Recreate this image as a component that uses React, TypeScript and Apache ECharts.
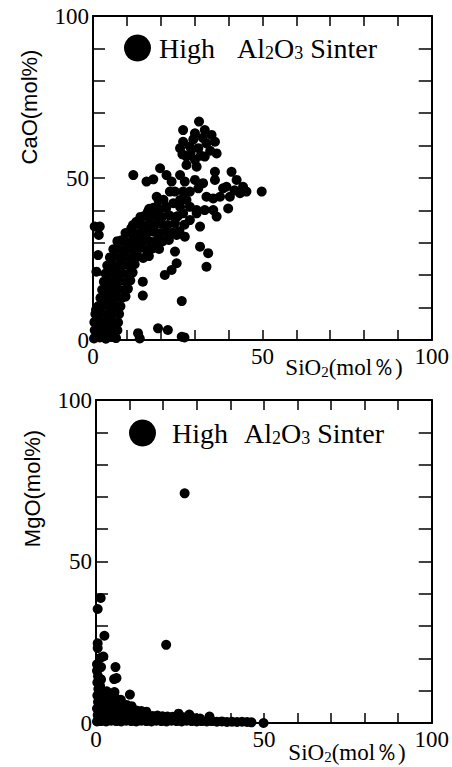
import React, { useEffect, useRef } from "react";
import * as echarts from "echarts";

// Labelled tick values on both axes
const labelledTicks = [0, 50, 100];

// CaO vs SiO2 (mol%) – High Al2O3 sinter
const caoPoints: number[][] = [
  // top cluster
  [31.3, 67.4], [26.6, 64.8], [30.1, 63.8], [33.0, 64.8], [35.0, 63.3], [36.0, 61.2],
  [25.7, 59.2], [28.6, 59.7], [31.1, 59.2], [33.5, 60.7], [27.6, 56.6], [30.1, 55.6],
  [33.0, 56.6], [36.5, 57.6], [27.6, 54.0], [30.6, 53.5], [26.6, 61.2], [29.6, 61.9],
  [32.4, 62.4], [34.6, 58.4], [28.8, 57.6], [31.8, 56.9], [26.4, 57.3],
  // upper right arm
  [36.0, 51.9], [40.9, 51.9], [42.4, 49.4], [44.3, 47.3], [45.3, 45.8], [43.4, 45.3],
  [39.4, 47.3], [37.5, 44.2], [49.8, 45.8], [39.9, 40.6], [36.0, 49.4], [35.5, 43.7],
  [36.5, 38.1], [35.5, 40.1], [33.0, 40.1], [30.6, 39.1], [28.6, 37.0], [33.5, 44.2],
  [31.1, 46.8], [28.6, 45.8], [26.6, 45.8], [22.7, 45.8], [25.7, 43.2], [27.6, 43.2],
  [25.7, 41.1], [23.7, 42.2], [30.1, 49.4], [32.5, 48.4], [25.7, 50.9], [21.7, 50.9],
  [19.8, 53.0], [11.9, 50.9], [15.8, 48.9], [17.8, 49.6], [18.8, 44.2], [24.2, 45.8],
  [27.1, 48.9], [23.2, 48.9], [26.6, 39.1], [24.7, 38.1], [28.6, 41.1], [30.6, 40.1],
  [31.6, 35.0], [24.7, 32.4], [27.1, 31.9], [31.6, 28.8], [34.0, 26.8], [33.5, 22.6],
  [24.2, 27.3], [24.7, 23.7], [23.2, 21.6], [21.2, 20.1], [26.2, 12.0], [14.7, 18.0],
  [14.7, 13.7], [21.6, 41.1], [18.7, 40.1], [16.2, 39.6], [12.8, 36.5], [11.3, 34.5],
  [40.4, 44.2], [38.4, 46.8], [41.8, 46.2],
  // low points near the axis
  [13.3, 2.1], [13.8, 0.5], [19.2, 3.6], [22.1, 3.1], [26.2, 1.0], [27.0, 0.8],
  // left column
  [0.5, 35.0], [2.0, 35.0], [1.7, 32.4], [1.5, 26.2], [1.0, 21.1], [0.9, 9.3],
  // dense band
  [0.3, 0.5], [2.0, 0.8], [3.8, 0.4], [5.5, 0.9], [6.8, 0.6],
  [0.5, 3.0], [2.3, 3.3], [4.0, 2.8], [5.8, 3.2], [7.2, 3.0],
  [0.4, 5.5], [2.1, 5.8], [3.9, 5.3], [5.6, 5.7], [7.4, 5.4],
  [0.7, 8.0], [2.4, 8.3], [4.2, 7.8], [6.0, 8.2], [7.7, 8.0],
  [1.6, 10.5], [3.0, 10.8], [4.6, 10.3], [6.4, 10.7], [8.1, 10.4],
  [2.2, 13.0], [3.6, 13.3], [5.1, 12.8], [6.9, 13.2], [8.5, 13.0], [9.6, 13.4],
  [2.7, 15.5], [4.0, 15.8], [5.6, 15.3], [7.4, 15.7], [9.2, 15.4], [10.3, 15.8],
  [3.2, 18.0], [4.5, 18.3], [6.1, 17.8], [7.9, 18.2], [9.7, 18.0], [11.0, 18.4],
  [3.7, 20.5], [5.0, 20.8], [6.6, 20.3], [8.4, 20.7], [10.2, 20.4], [11.7, 20.8],
  [4.2, 23.0], [5.5, 23.3], [7.1, 22.8], [8.9, 23.2], [10.7, 23.0], [12.3, 23.4],
  [5.0, 25.5], [6.2, 25.8], [7.7, 25.3], [9.5, 25.7], [11.3, 25.4], [13.1, 25.8], [14.8, 25.3], [16.5, 25.9],
  [6.0, 28.0], [7.2, 28.3], [8.6, 27.8], [10.4, 28.2], [12.2, 28.0], [14.0, 28.4], [15.8, 27.9], [17.6, 28.3], [19.5, 28.1],
  [7.2, 30.5], [8.4, 30.8], [9.8, 30.3], [11.6, 30.7], [13.4, 30.4], [15.2, 30.8], [17.0, 30.3], [18.8, 30.7], [20.6, 30.5], [22.4, 30.9],
  [9.6, 33.0], [10.8, 33.3], [12.4, 32.8], [14.2, 33.2], [16.0, 33.0], [17.8, 33.4], [19.6, 32.9], [21.4, 33.3], [23.6, 33.1], [25.5, 33.6],
  [11.8, 35.5], [13.0, 35.8], [14.6, 35.3], [16.4, 35.7], [18.2, 35.4], [20.0, 35.8], [22.0, 35.5], [24.2, 36.0], [27.0, 35.6],
  [14.0, 38.0], [15.2, 38.3], [16.8, 37.8], [18.6, 38.2], [20.4, 38.0], [22.6, 38.4], [25.0, 38.2],
  [16.6, 40.5], [17.8, 40.8], [19.4, 40.3], [21.6, 40.7],
  [19.4, 43.0], [20.8, 43.3],
];

// MgO vs SiO2 (mol%) – High Al2O3 sinter
const mgoPoints: number[][] = [
  // outliers
  [26.4, 71.1], [20.9, 24.2], [1.4, 38.7], [0.5, 35.3], [2.5, 27.0], [0.5, 24.7],
  [0.5, 23.2], [2.2, 20.6], [1.2, 20.1], [0.3, 18.2], [1.5, 17.3], [5.8, 17.3],
  [5.4, 13.6], [6.1, 13.9], [5.5, 9.6], [10.1, 8.8],
  // column on the axis
  [0.3, 0.5], [0.5, 2.5], [0.3, 4.5], [0.6, 6.5], [0.4, 8.5], [0.7, 10.5],
  [0.4, 12.5], [0.6, 14.5], [0.3, 16.2], [1.2, 11.5], [1.5, 13.5],
  // base band
  [1.5, 0.6], [3.0, 0.5], [4.5, 0.7], [6.0, 0.6], [7.5, 0.5], [9.0, 0.7], [10.5, 0.6],
  [12.0, 0.5], [13.5, 0.7], [15.0, 0.6], [16.5, 0.5], [18.0, 0.7], [19.5, 0.6], [21.0, 0.5],
  [22.5, 0.7], [24.0, 0.6], [25.5, 0.5], [27.0, 0.7], [28.5, 0.6], [30.0, 0.5], [31.5, 0.6],
  [33.0, 0.5], [34.5, 0.6], [36.0, 0.4], [37.5, 0.5], [39.0, 0.3], [40.5, 0.4], [42.0, 0.3],
  [43.5, 0.4], [45.0, 0.3], [46.3, 0.2], [49.9, 0.0],
  [1.8, 2.4], [3.3, 2.5], [4.8, 2.3], [6.3, 2.4], [7.8, 2.5], [9.3, 2.3], [10.8, 2.4],
  [12.3, 2.5], [13.8, 2.3], [15.3, 2.4], [16.8, 2.2], [18.3, 2.3], [19.8, 2.1], [21.3, 2.0],
  [22.8, 1.9], [24.6, 2.9], [26.0, 1.8], [27.8, 2.6], [29.5, 1.5], [31.0, 1.4], [33.8, 2.0],
  [1.5, 4.3], [3.0, 4.4], [4.5, 4.3], [6.0, 4.2], [7.5, 4.4], [9.0, 4.1], [10.5, 4.0],
  [12.0, 3.9], [13.5, 3.7], [15.0, 3.5],
  [1.6, 6.2], [3.1, 6.3], [4.6, 6.1], [6.1, 6.2], [7.6, 6.0], [9.1, 5.6], [10.6, 5.2],
  [1.4, 8.1], [2.9, 8.2], [4.4, 7.9], [5.9, 7.6], [7.4, 7.2],
  [1.8, 10.0], [3.2, 9.8],
];

const SERIF = "'Liberation Serif', 'Times New Roman', Times, serif";
const SANS = "'Liberation Sans', Arial, Helvetica, sans-serif";
const BLACK = "#000";

const frameLine = { show: true, onZero: false, lineStyle: { color: BLACK, width: 2 } };

function makeAxes(gridIndex: number, yName: string, namePadTop: number, nameGap: number, yPad: number) {
  const xAxes = [
    {
      type: "value",
      gridIndex,
      min: 0,
      max: 100,
      interval: 10,
      position: "bottom",
      axisLine: frameLine,
      axisTick: { inside: true, length: 10, lineStyle: { color: BLACK, width: 1.5 } },
      splitLine: { show: false },
      axisLabel: {
        color: BLACK,
        fontFamily: SERIF,
        fontSize: 23,
        margin: 5,
        formatter: (v: number) => (labelledTicks.includes(v) ? String(v) : ""),
      },
      name: "{a|SiO}{b|2}{a|(mol\uFF05)}",
      nameLocation: "end",
      nameGap,
      nameTextStyle: {
        align: "right",
        verticalAlign: "top",
        padding: [namePadTop, 0, 0, 0],
        rich: {
          a: { fontFamily: SERIF, fontSize: 23, color: BLACK },
          b: { fontFamily: SERIF, fontSize: 15, color: BLACK, verticalAlign: "bottom" },
        },
      },
    },
    {
      type: "value",
      gridIndex,
      min: 0,
      max: 100,
      interval: 10,
      position: "top",
      axisLine: frameLine,
      axisTick: { inside: true, length: 10, lineStyle: { color: BLACK, width: 1.5 } },
      splitLine: { show: false },
      axisLabel: { show: false },
    },
  ];
  const yAxes = [
    {
      type: "value",
      gridIndex,
      min: 0,
      max: 100,
      interval: 10,
      position: "left",
      axisLine: frameLine,
      axisTick: { inside: true, length: 12, lineStyle: { color: BLACK, width: 1.5 } },
      splitLine: { show: false },
      axisLabel: {
        color: BLACK,
        fontFamily: SERIF,
        fontSize: 23,
        margin: 4,
        formatter: (v: number) => (labelledTicks.includes(v) ? String(v) : ""),
      },
      name: yName,
      nameLocation: "middle",
      nameGap: 53,
      nameTextStyle: {
        fontFamily: SANS,
        fontSize: 22,
        color: BLACK,
        padding: [0, 0, 0, yPad],
      },
    },
    {
      type: "value",
      gridIndex,
      min: 0,
      max: 100,
      interval: 10,
      position: "right",
      axisLine: frameLine,
      axisTick: { inside: true, length: 13, lineStyle: { color: BLACK, width: 1.5 } },
      splitLine: { show: false },
      axisLabel: { show: false },
    },
  ];
  return { xAxes, yAxes };
}

const legendRich = (gap: number) => ({
  h: { fontFamily: SERIF, fontSize: 28, color: BLACK, padding: [0, gap, 0, 0] },
  a: { fontFamily: SERIF, fontSize: 28, color: BLACK },
  b: { fontFamily: SERIF, fontSize: 18, color: BLACK, verticalAlign: "bottom" },
});
const legendText = "{h|High}{a|Al}{b|2}{a|O}{b|3}{a| Sinter}";

export default function App() {
  const ref = useRef<HTMLDivElement>(null);
  useEffect(() => {
    document.body.style.margin = "0";
    if (!ref.current) return;
    const chart = echarts.init(ref.current, undefined, { renderer: "svg" });
    const top = makeAxes(0, "CaO(mol%)", 16, -29, 142);
    const bottom = makeAxes(1, "MgO(mol%)", 18, -26, 146);
    chart.setOption({
      animation: false,
      backgroundColor: "#fff",
      grid: [
        { left: 93, top: 16, width: 339, height: 324 },
        { left: 96, top: 400, width: 337, height: 323 },
      ],
      xAxis: [...top.xAxes, ...bottom.xAxes],
      yAxis: [...top.yAxes, ...bottom.yAxes],
      legend: [
        {
          data: ["High Al2O3 Sinter (CaO)"],
          left: 119,
          top: 29,
          icon: "circle",
          itemWidth: 27,
          itemHeight: 27,
          selectedMode: false,
          formatter: () => legendText,
          textStyle: { padding: [0, 0, 0, 3], rich: legendRich(22) },
        },
        {
          data: ["High Al2O3 Sinter (MgO)"],
          left: 124,
          top: 414,
          icon: "circle",
          itemWidth: 27,
          itemHeight: 27,
          selectedMode: false,
          formatter: () => legendText,
          textStyle: { padding: [0, 0, 0, 11], rich: legendRich(16) },
        },
      ],
      series: [
        {
          name: "High Al2O3 Sinter (CaO)",
          type: "scatter",
          xAxisIndex: 0,
          yAxisIndex: 0,
          symbol: "circle",
          symbolSize: 10,
          itemStyle: { color: BLACK, opacity: 1 },
          data: caoPoints,
        },
        {
          name: "High Al2O3 Sinter (MgO)",
          type: "scatter",
          xAxisIndex: 2,
          yAxisIndex: 2,
          symbol: "circle",
          symbolSize: 10,
          itemStyle: { color: BLACK, opacity: 1 },
          data: mgoPoints,
        },
      ],
    });
    return () => chart.dispose();
  }, []);
  return <div ref={ref} style={{ width: 452, height: 767 }} />;
}
